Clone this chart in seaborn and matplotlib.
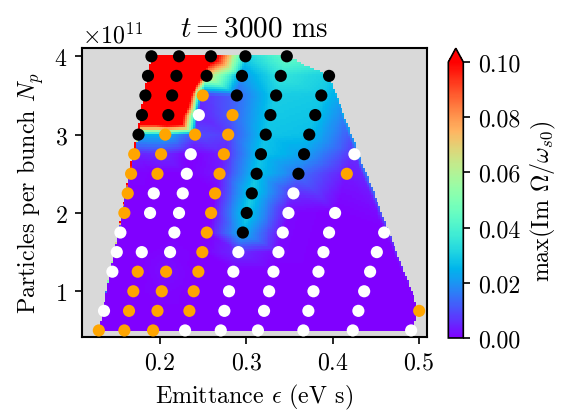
import numpy as np
import pandas as pd
import matplotlib
matplotlib.use("Agg")
import matplotlib.pyplot as plt
import matplotlib.tri as mtri
import seaborn as sns

nan = np.nan

# Rows of bunch intensity (units of 1e11)
NP_ROWS = [0.5, 0.75, 1.0, 1.25, 1.5, 1.75, 2.0, 2.25, 2.5, 2.75, 3.0, 3.25, 3.5, 3.75, 4.0]

# Emittance of each simulated point, one list per scan column (bottom -> top)
EPS_C1 = [0.129, 0.135, nan, 0.1447, 0.1498, 0.154, 0.1586, 0.1625, 0.1664, 0.170, 0.175, 0.179, 0.183, 0.186, 0.190]
EPS_C2 = [0.1586, 0.164, 0.169, 0.1741, 0.1788, nan, 0.1884, 0.1927, 0.197, 0.2012, 0.206, 0.2096, 0.214, 0.219, 0.222]
EPS_C3 = [0.1919, 0.197, 0.202, 0.207, 0.2116, 0.2166, 0.222, 0.2263, 0.231, 0.2356, 0.2406, 0.245, 0.2495, 0.254, 0.259]
EPS_C4 = [0.229, 0.234, 0.239, 0.2444, 0.249, 0.2542, 0.2592, 0.2638, 0.269, 0.274, 0.279, 0.284, 0.289, 0.295, 0.299]
EPS_C5 = [0.2704, 0.2746, 0.280, 0.285, 0.2908, 0.296, 0.3005, 0.3064, 0.312, 0.317, 0.3226, 0.328, 0.3346, 0.340, 0.347]
EPS_C6 = [0.3135, 0.3206, 0.3265, 0.3315, 0.3373, 0.3423, 0.3489, 0.3547, 0.3605, 0.367, 0.373, 0.380, 0.387, 0.396, nan]
EPS_C7 = [0.3662, 0.372, 0.3779, 0.3837, 0.3895, 0.396, 0.403, nan, 0.4166, 0.4254, nan, nan, nan, nan, nan]
EPS_C8 = [0.4235, 0.430, 0.4367, 0.4436, 0.4514, 0.4599, nan, nan, nan, nan, nan, nan, nan, nan, nan]
EPS_C9 = [0.4912, 0.5005, nan, nan, nan, nan, nan, nan, nan, nan, nan, nan, nan, nan, nan]

# Marker class of each point: w = white, o = orange, k = black, - = no point
CLS_C1 = "ow-wwwooookkkkk"
CLS_C2 = "oooow-wwoookkkk"
CLS_C3 = "oooowwwwwwowokk"
CLS_C4 = "woooooooooookkk"
CLS_C5 = "wwwwwkkkkkkkkkk"
CLS_C6 = "wwwwwwwwkkkkkk-"
CLS_C7 = "wwwwwww-ow-----"
CLS_C8 = "wwwwww---------"
CLS_C9 = "wo-------------"

# max(Im Omega / omega_s0) at each point
VAL_C1 = [0, 0, nan, 0, 0, 0, 0, 0, 0.001, 0.004, 0.025, 0.18, 0.3, 0.3, 0.3]
VAL_C2 = [0, 0, 0, 0, 0, nan, 0, 0, 0, 0.006, 0.025, 0.2, 0.25, 0.3, 0.3]
VAL_C3 = [0, 0, 0.001, 0.002, 0.001, 0, 0, 0, 0, 0, 0.01, 0.004, 0.006, 0.07, 0.12]
VAL_C4 = [0, 0, 0, 0, 0, 0, 0, 0, 0.003, 0.004, 0.008, 0.012, 0.013, 0.02, 0.03]
VAL_C5 = [0, 0, 0, 0, 0.006, 0.025, 0.03, 0.03, 0.028, 0.028, 0.028, 0.029, 0.03, 0.035, 0.045]
VAL_C6 = [0, 0, 0, 0, 0.001, 0.001, 0.001, 0.006, 0.015, 0.022, 0.027, 0.028, 0.029, 0.03, nan]
VAL_C7 = [0, 0, 0, 0, 0, 0, 0, nan, 0.003, 0.006, nan, nan, nan, nan, nan]
VAL_C8 = [0, 0, 0, 0, 0, 0, nan, nan, nan, nan, nan, nan, nan, nan, nan]
VAL_C9 = [0, 0, nan, nan, nan, nan, nan, nan, nan, nan, nan, nan, nan, nan, nan]

EPS_COLS = [EPS_C1, EPS_C2, EPS_C3, EPS_C4, EPS_C5, EPS_C6, EPS_C7, EPS_C8, EPS_C9]
CLS_COLS = [CLS_C1, CLS_C2, CLS_C3, CLS_C4, CLS_C5, CLS_C6, CLS_C7, CLS_C8, CLS_C9]
VAL_COLS = [VAL_C1, VAL_C2, VAL_C3, VAL_C4, VAL_C5, VAL_C6, VAL_C7, VAL_C8, VAL_C9]

X_TICKS = [0.2, 0.3, 0.4, 0.5]
Y_TICKS = [1, 2, 3, 4]
CB_TICKS = [0.0, 0.02, 0.04, 0.06, 0.08, 0.10]
TITLE = r"$t = 3000$ ms"
XLABEL = r"Emittance $\epsilon$ (eV s)"
YLABEL = r"Particles per bunch $N_p$"
CBLABEL = r"max(Im $\Omega/\omega_{s0}$)"

records = []
for eps_c, cls_c, val_c in zip(EPS_COLS, CLS_COLS, VAL_COLS):
    for np_r, e, c, v in zip(NP_ROWS, eps_c, cls_c, val_c):
        if c != "-":
            records.append({"eps": e, "Np": np_r * 1e11, "Npu": np_r, "cls": c, "val": v})
df = pd.DataFrame(records)

plt.rcParams["font.family"] = "serif"
plt.rcParams["font.serif"] = ["cmr10"]
plt.rcParams["mathtext.fontset"] = "cm"
plt.rcParams["axes.formatter.use_mathtext"] = True
plt.rcParams["axes.unicode_minus"] = False
plt.rcParams["font.size"] = 11.5

DPI = 150
fig = plt.figure(figsize=(563 / DPI, 414 / DPI), dpi=DPI)
ax = fig.add_axes([0.1457, 0.1843, 0.6123, 0.6966])
cax = fig.add_axes([0.7963, 0.1812, 0.0266, 0.6998])
ax.set_facecolor("#d9d9d9")

# interpolated stability map over the convex hull of the scan points
tri = mtri.Triangulation(df["eps"].values * 10.0, df["Npu"].values)
interp = mtri.LinearTriInterpolator(tri, df["val"].values)
gx = np.linspace(df["eps"].min(), df["eps"].max(), 170)
gy = np.linspace(min(NP_ROWS), max(NP_ROWS), 130)
GX, GY = np.meshgrid(gx, gy)
GZ = interp(GX * 10.0, GY)
cmap = plt.get_cmap("rainbow")
mesh = ax.pcolormesh(GX, GY * 1e11, GZ, cmap=cmap, vmin=0, vmax=0.1,
                     shading="nearest", rasterized=True, zorder=1)

sns.scatterplot(data=df, x="eps", y="Np", hue="cls",
                palette={"w": "white", "o": "orange", "k": "black"},
                s=34, linewidth=0, legend=False, ax=ax, zorder=3)

ax.set_xlim(0.1095, 0.5093)
ax.set_ylim(0.42e11, 4.102e11)
ax.set_xticks(X_TICKS)
ax.set_yticks([t * 1e11 for t in Y_TICKS])
ax.set_xlabel(XLABEL)
ax.set_ylabel(YLABEL)
ax.set_title(TITLE, fontsize=14)
for s in ax.spines.values():
    s.set_linewidth(1.0)

cb = fig.colorbar(mesh, cax=cax, extend="max", ticks=CB_TICKS, format="%.2f")
cb.set_label(CBLABEL)

fig.savefig("out.png", dpi=DPI)
